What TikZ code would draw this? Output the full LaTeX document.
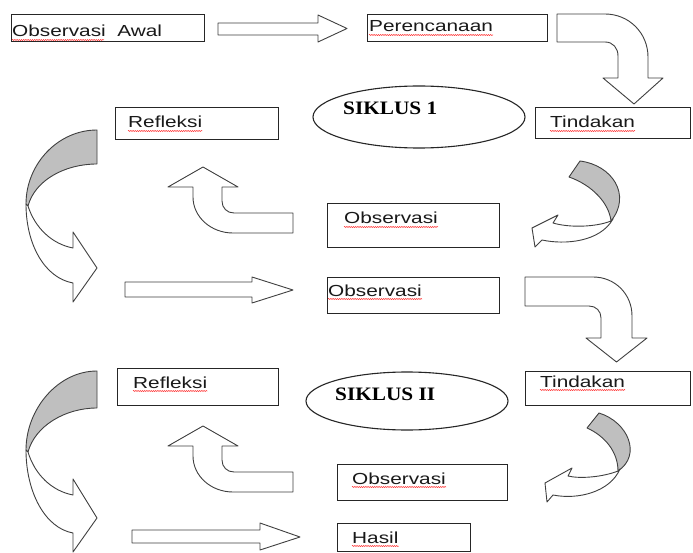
\documentclass[tikz,border=0pt]{standalone}
\usepackage{fontspec}
\setmainfont{Liberation Sans}[FakeStretch=1.3]
\newfontfamily\siklusfont{Liberation Serif}[FakeStretch=1.12]
\usetikzlibrary{decorations.pathmorphing,shapes.geometric}
\begin{document}
\begin{tikzpicture}[x=1pt,y=-1pt,
  box/.style={draw=black!85,line width=1.2pt,anchor=north west,inner sep=0pt,fill=white},
  ell/.style={draw=black!85,line width=1.1pt,ellipse,inner sep=0pt},
  lbl/.style={anchor=base west,inner sep=0pt,font=\fontsize{16}{19}\selectfont,text=black!90},
  sik/.style={anchor=base west,inner sep=0pt,font=\siklusfont\bfseries\fontsize{19}{22}\selectfont},
  arr/.style={draw=black!75,line width=0.9pt,fill=white,line join=round},
  back/.style={draw=black!75,line width=0.9pt,fill=black!25,line join=round},
  squig/.style={draw=red!80,line width=0.5pt,decorate,decoration={snake,amplitude=0.6pt,segment length=2.2pt}}]
\useasboundingbox[fill=white] (0,0) rectangle (693,553);

% boxes
\node[box,minimum width=193pt,minimum height=27pt] (b1) at (11,14) {};
\node[box,minimum width=180pt,minimum height=27pt] (b2) at (367,14) {};
\node[box,minimum width=155pt,minimum height=31pt] (b3) at (535,107) {};
\node[box,minimum width=163pt,minimum height=32pt] (b4) at (115,107) {};
\node[box,minimum width=172pt,minimum height=44pt] (b5) at (327,203) {};
\node[box,minimum width=172pt,minimum height=36pt] (b6) at (327,277) {};
\node[box,minimum width=165pt,minimum height=34pt] (b7) at (525,371) {};
\node[box,minimum width=161pt,minimum height=37pt] (b8) at (117,368) {};
\node[box,minimum width=170pt,minimum height=36pt] (b9) at (337,464) {};
\node[box,minimum width=133pt,minimum height=28pt] (b10) at (337,523) {};

% ellipses
\node[ell,minimum width=212pt,minimum height=62pt] (e1) at (419,117) {};
\node[ell,minimum width=202pt,minimum height=58pt] (e2) at (407,401) {};

% texts
\node[lbl] (t1) at (12,37) {Observasi\ \ Awal};
\node[lbl] (t2) at (369,32) {Perencanaan};
\node[lbl] (t3) at (550,128) {Tindakan};
\node[lbl] (t4) at (128,128) {Refleksi};
\node[lbl] (t5) at (344,224) {Observasi};
\node[lbl] (t6) at (328,296) {Observasi};
\node[lbl] (t7) at (540,387) {Tindakan};
\node[lbl] (t8) at (133,388) {Refleksi};
\node[lbl] (t9) at (352,484) {Observasi};
\node[lbl] (t10) at (352,543) {Hasil};
\node[sik] (s1) at (343,115) {SIKLUS 1};
\node[sik] (s2) at (335,400) {SIKLUS\ II};

% spell-check underlines
\draw[squig] ([yshift=-3pt]t1.base west) -- ++(92,0);
\foreach \t in {t2,t3,t4,t5,t6,t7,t8,t9,t10}
  \draw[squig] ([yshift=-3pt]\t.base west) -- ([yshift=-3pt]\t.base east);

% straight block arrows
\draw[arr] (218,23) -- (318,23) -- (318,15) -- (347,28.5) -- (318,42) -- (318,35) -- (218,35) -- cycle;
\draw[arr] (125,282) -- (252,282) -- (252,277) -- (293,290) -- (252,303) -- (252,297) -- (125,297) -- cycle;
\draw[arr] (132,530) -- (260,530) -- (260,523) -- (300,537) -- (260,550) -- (260,543) -- (132,543) -- cycle;

% bent arrows (right then down)
\draw[arr] (557,14) -- (605,14) .. controls (629,14) and (648,33) .. (648,57) -- (648,78) -- (663,78) -- (634,104) -- (603,78) -- (618,78) -- (618,56) .. controls (618,48) and (613,42) .. (605,42) -- (557,42) -- cycle;
\draw[arr] (525,277) -- (593,277) .. controls (615,277) and (632,294) .. (632,316) -- (632,338) -- (647,338) -- (616.5,362) -- (586,338) -- (601,338) -- (601,318) .. controls (601,311) and (596,306) .. (589,306) -- (525,306) -- cycle;

% U-turn arrows (left then up)
\foreach \dy in {0,259}{
\begin{scope}[shift={(0,\dy)}]
\draw[arr] (293,213) -- (234,213) .. controls (227,213) and (222,208) .. (222,201) -- (222,187) -- (238,187) -- (203,167) -- (168,187) -- (193,187) -- (193,197) .. controls (193,217) and (211,233) .. (233,233) -- (293,233) -- cycle;
\end{scope}}

% big curved arrows on the left
\draw[back] (97,164) .. controls (65,164) and (35,180) .. (28,206) -- (26,204) .. controls (26,164) and (58,130) .. (97,130) -- cycle;
\draw[arr] (28,206) .. controls (35,228) and (52,244) .. (73,248) -- (73,232) -- (97,268) -- (73,302) -- (73,283) .. controls (45,278) and (26,245) .. (26,204) -- cycle;

\draw[back] (97,408) .. controls (65,408) and (35,426) .. (28,452) -- (26,450) .. controls (26,409) and (58,371) .. (97,371) -- cycle;
\draw[arr] (28,452) .. controls (35,475) and (52,491) .. (73,495) -- (73,479) -- (97,518) -- (73,552) -- (73,533) .. controls (45,528) and (26,492) .. (26,450) -- cycle;

% small curved arrows on the right
\draw[back] (569,177) -- (580,161) .. controls (612,165) and (632,195) .. (611,221) .. controls (609,203) and (592,185) .. (569,177) -- cycle;
\draw[arr] (611,221) .. controls (596,227) and (570,228) .. (553,223) -- (558,215) -- (532,228) -- (535,247) -- (542,240) .. controls (565,245) and (600,242) .. (613,219) -- cycle;

\draw[back] (587,428) -- (599,413) .. controls (628,422) and (642,455) .. (618,471) .. controls (618,452) and (605,436) .. (587,428) -- cycle;
\draw[arr] (618,471) .. controls (603,477) and (580,479) .. (568,476) -- (572,468) -- (545,483) -- (547,502) -- (553,495) .. controls (578,500) and (610,492) .. (620,469) -- cycle;
\end{tikzpicture}
\end{document}
